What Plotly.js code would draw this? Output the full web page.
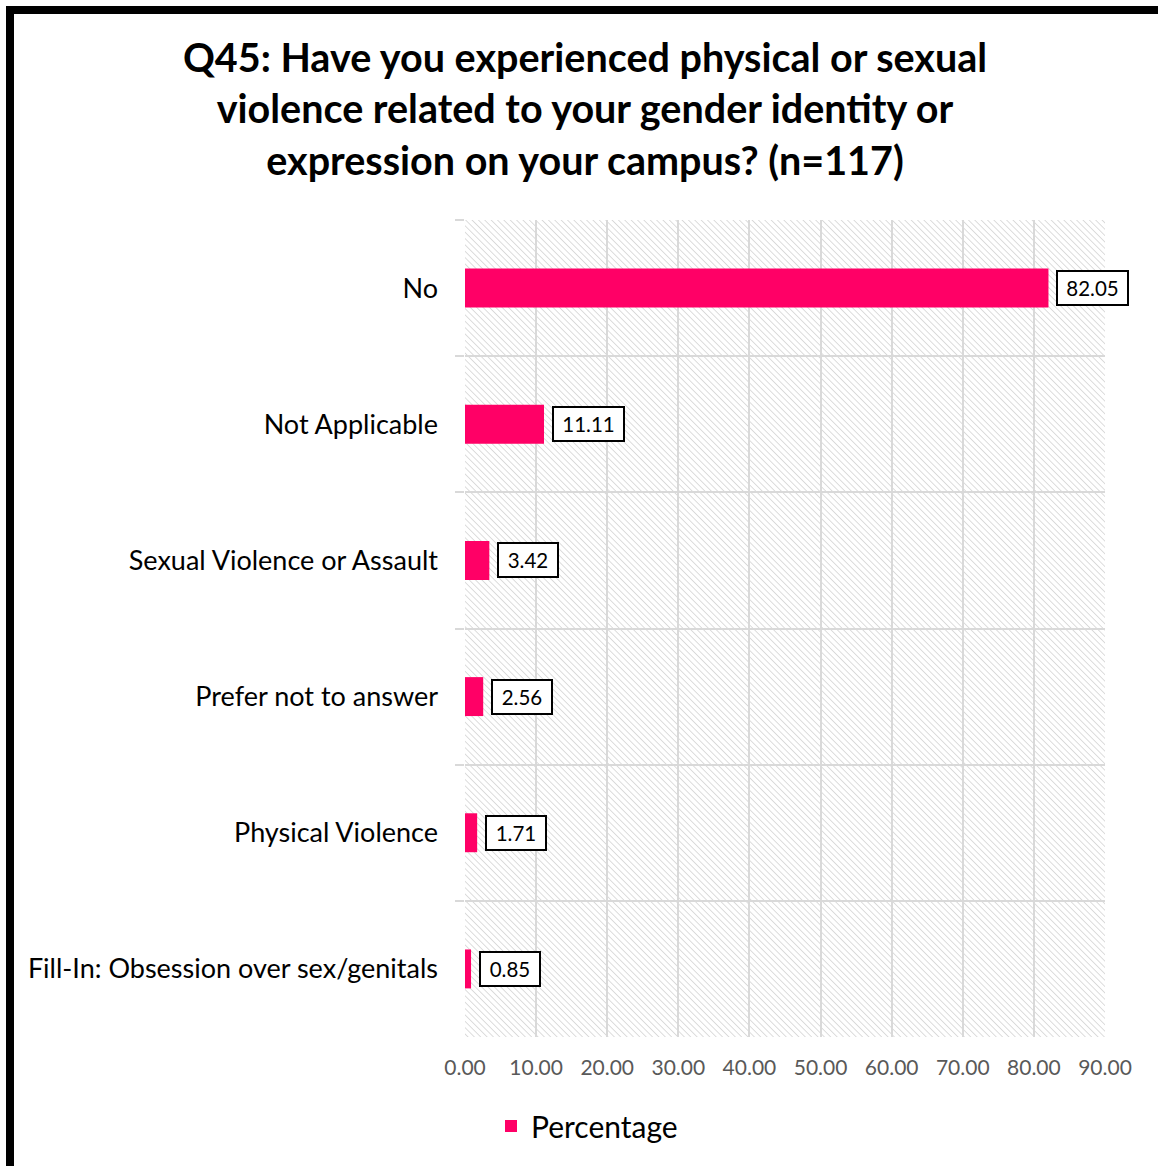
<!DOCTYPE html>
<html>
<head>
<meta charset="utf-8">
<script src="https://cdn.plot.ly/plotly-3.0.1.min.js"></script>
<style>
  html, body { margin: 0; padding: 0; background: #fff; }
  #wrap { position: relative; width: 1158px; height: 1166px; overflow: hidden; }
  #chart { position: absolute; left: 0; top: 0; width: 1158px; height: 1166px; }
  #frame { position: absolute; left: 6px; top: 6px; width: 1300px; height: 1300px;
           border-left: 8px solid #000; border-top: 8px solid #000; pointer-events: none; z-index: 5; }
</style>
</head>
<body>
<div id="wrap">
  <div id="chart"></div>
  <div id="frame"></div>
</div>
<script>
// ---- data ----
const categories = [
  "No",
  "Not Applicable",
  "Sexual Violence or Assault",
  "Prefer not to answer",
  "Physical Violence",
  "Fill-In: Obsession over sex/genitals"
];
const percentages = [82.05, 11.11, 3.42, 2.56, 1.71, 0.85];
const valueLabels = ["82.05", "11.11", "3.42", "2.56", "1.71", "0.85"];
const seriesName = "Percentage";
const xTickValues = [0, 10, 20, 30, 40, 50, 60, 70, 80, 90];
const titleText = "Q45: Have you experienced physical or sexual<br>violence related to your gender identity or<br>expression on your campus? (n=117)";

// ---- hatched plot background as an inline SVG image ----
const hatch = '<svg xmlns="http://www.w3.org/2000/svg" width="640" height="817" viewBox="0 0 640 817">' +
  '<defs><pattern id="h" width="4.5" height="4.5" patternUnits="userSpaceOnUse" patternTransform="rotate(-45)">' +
  '<line x1="0" y1="0" x2="0" y2="4.5" stroke="#d2d2d2" stroke-width="1.5"/></pattern></defs>' +
  '<rect width="640" height="817" fill="#ffffff"/><rect width="640" height="817" fill="url(#h)"/></svg>';
const hatchURI = 'data:image/svg+xml;charset=utf-8,' + encodeURIComponent(hatch);

const FONT = 'Lato, "Open Sans", sans-serif';

const trace = {
  type: 'bar',
  orientation: 'h',
  name: seriesName,
  x: percentages,
  y: categories,
  width: 0.286,
  marker: { color: '#FF0066' },
  hoverinfo: 'x+y',
  showlegend: true
};

const annotations = percentages.map((v, i) => ({
  x: v,
  y: categories[i],
  xref: 'x',
  yref: 'y',
  text: valueLabels[i],
  showarrow: false,
  xanchor: 'left',
  yanchor: 'middle',
  xshift: 8,
  bgcolor: '#ffffff',
  bordercolor: '#000000',
  borderwidth: 2,
  borderpad: 4,
  width: valueLabels[i].length * 11 + 6,
  font: { family: FONT, size: 20.5, color: '#000000' }
}));

const layout = {
  width: 1158,
  height: 1166,
  margin: { l: 465, r: 53, t: 220, b: 129, pad: 0 },
  paper_bgcolor: '#ffffff',
  plot_bgcolor: 'rgba(0,0,0,0)',
  font: { family: FONT, color: '#000000' },
  title: {
    text: titleText,
    font: { family: FONT, size: 39.5, color: '#000000', weight: 'bold' },
    x: 585 / 1158,
    xanchor: 'center',
    xref: 'container',
    yref: 'container',
    y: 1 - 72 / 1166,
    yanchor: 'top'
  },
  xaxis: {
    range: [0, 90],
    tickvals: xTickValues,
    tickformat: '.2f',
    showgrid: true,
    gridcolor: '#d9d9d9',
    gridwidth: 2,
    zeroline: false,
    showline: false,
    ticks: '',
    ticklabelstandoff: 16,
    tickfont: { family: FONT, size: 21, color: '#595959' },
    fixedrange: true
  },
  yaxis: {
    type: 'category',
    categoryorder: 'array',
    categoryarray: categories,
    autorange: 'reversed',
    tickson: 'boundaries',
    ticks: 'outside',
    ticklen: 9,
    tickwidth: 2,
    tickcolor: '#d9d9d9',
    showgrid: true,
    gridcolor: '#d9d9d9',
    gridwidth: 2,
    showline: false,
    zeroline: false,
    ticklabelstandoff: 26,
    tickfont: { family: FONT, size: 27, color: '#000000' },
    fixedrange: true
  },
  images: [{
    source: hatchURI,
    xref: 'paper', yref: 'paper',
    x: 0, y: 1, sizex: 1, sizey: 1,
    xanchor: 'left', yanchor: 'top',
    sizing: 'stretch',
    layer: 'below'
  }],
  legend: {
    orientation: 'h',
    xref: 'container', yref: 'container',
    x: 587 / 1158, xanchor: 'center',
    y: 1 - 1126 / 1166, yanchor: 'middle',
    font: { family: FONT, size: 30, color: '#000000' },
    itemwidth: 30,
    bgcolor: 'rgba(0,0,0,0)'
  },
  annotations: annotations,
  showlegend: true
};

Plotly.newPlot('chart', [trace], layout, { displayModeBar: false, staticPlot: true });
</script>
</body>
</html>
